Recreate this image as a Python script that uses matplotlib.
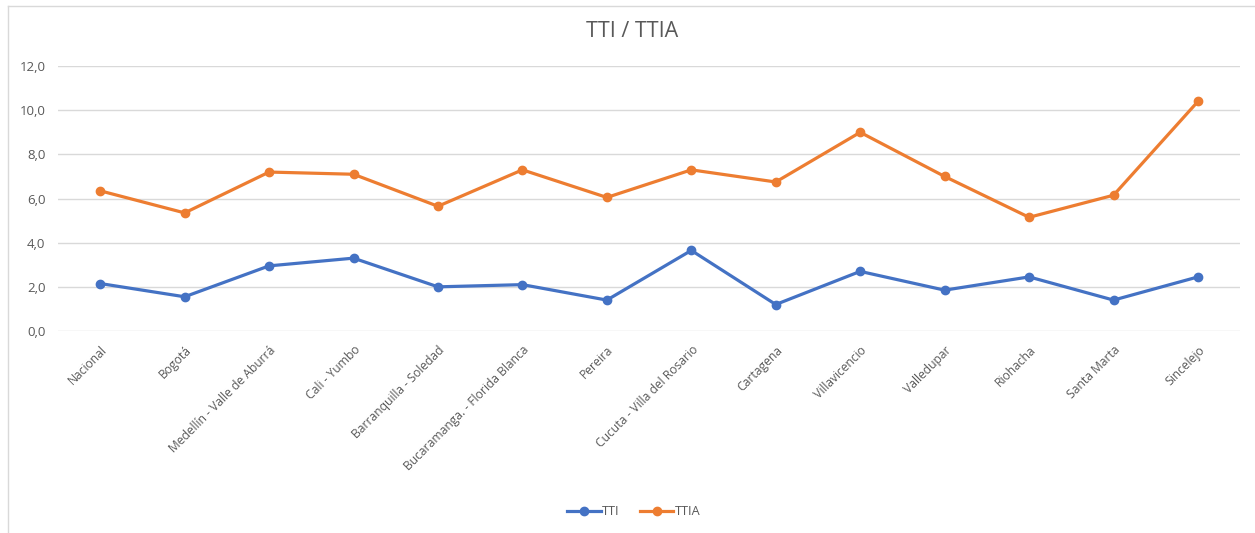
import matplotlib.pyplot as plt
from matplotlib.lines import Line2D
from matplotlib.ticker import FuncFormatter

# data
ciudades = ['Nacional', 'Bogotá', 'Medellín - Valle de Aburrá', 'Cali - Yumbo',
            'Barranquilla - Soledad', 'Bucaramanga. - Florida Blanca', 'Pereira',
            'Cucuta - Villa del Rosario', 'Cartagena', 'Villavicencio', 'Valledupar',
            'Riohacha', 'Santa Marta', 'Sincelejo']
tti = [2.15, 1.55, 2.95, 3.3, 2.0, 2.1, 1.4, 3.65, 1.2, 2.7, 1.85, 2.45, 1.4, 2.45]
ttia = [6.35, 5.35, 7.2, 7.1, 5.65, 7.3, 6.05, 7.3, 6.75, 9.0, 7.0, 5.15, 6.15, 10.4]

plt.rcParams['font.family'] = ['Open Sans', 'DejaVu Sans']
gris = '#595959'

fig = plt.figure(figsize=(12.55, 5.33), dpi=100)
ax = fig.add_axes([0.0462, 0.379, 0.942, 0.497])

x = range(len(ciudades))
ax.plot(x, tti, color='#4472C4', lw=2.3, marker='o', ms=6, label='TTI', solid_joinstyle='round')
ax.plot(x, ttia, color='#ED7D31', lw=2.3, marker='o', ms=6, label='TTIA', solid_joinstyle='round')

ax.set_xlim(-0.5, len(ciudades) - 0.5)
ax.set_ylim(0, 12)
ax.set_yticks([0, 2, 4, 6, 8, 10, 12])
ax.yaxis.set_major_formatter(FuncFormatter(lambda v, p: f'{v:.1f}'.replace('.', ',')))
ax.grid(axis='y', color='#D9D9D9', lw=1)
ax.set_axisbelow(True)
for s in ax.spines.values():
    s.set_visible(False)
ax.tick_params(length=0, labelsize=9.5, colors=gris)
ax.tick_params(axis='y', pad=9)

ax.set_xticks(list(x))
ax.set_xticklabels(ciudades, rotation=45, ha='right', rotation_mode='anchor', fontsize=8.7)
ax.tick_params(axis='x', pad=9)

fig.text(0.504, 0.94, 'TTI / TTIA', ha='center', va='center', fontsize=15.5, color=gris)

fig.legend(loc='center', bbox_to_anchor=(0.505, 0.04), ncol=2, frameon=False,
           fontsize=9.2, labelcolor=gris, handlelength=2.6, handletextpad=0.1,
           columnspacing=1.6)

# chart border (left and top edges visible)
fig.add_artist(Line2D([8 / 1255, 8 / 1255], [0, 1 - 6 / 533], transform=fig.transFigure,
                      color='#D9D9D9', lw=1))
fig.add_artist(Line2D([8 / 1255, 1], [1 - 6 / 533, 1 - 6 / 533], transform=fig.transFigure,
                      color='#D9D9D9', lw=1))

fig.savefig('out.png', dpi=100)
